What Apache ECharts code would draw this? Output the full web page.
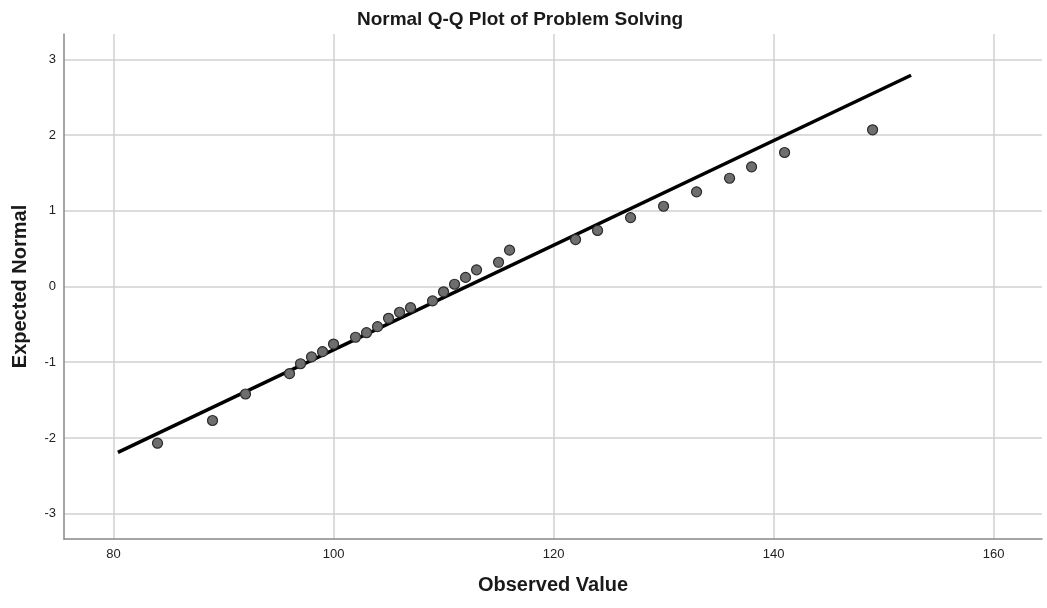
<!DOCTYPE html>
<html>
<head>
<meta charset="utf-8">
<script src="https://cdn.jsdelivr.net/npm/echarts@6/dist/echarts.min.js"></script>
<style>html,body{margin:0;padding:0;background:#fff;}#c{width:1047px;height:608px;}</style>
</head>
<body>
<div id="c"></div>
<script>
var observed = [84, 89, 92, 96, 97, 98, 99, 100, 102, 103, 104, 105, 106, 107, 109, 110, 111, 112, 113, 115, 116, 122, 124, 127, 130, 133, 136, 138, 141, 149];
var expected = [-2.07, -1.77, -1.42, -1.15, -1.02, -0.93, -0.86, -0.76, -0.67, -0.61, -0.53, -0.42, -0.34, -0.28, -0.19, -0.07, 0.03, 0.12, 0.22, 0.32, 0.48, 0.62, 0.74, 0.91, 1.06, 1.25, 1.43, 1.58, 1.77, 2.07];
var refLineX = [80.4, 152.5];
var refLineY = [-2.19, 2.79];
var xTicks = [80, 100, 120, 140, 160];
var yTicks = [-3, -2, -1, 0, 1, 2, 3];

var points = observed.map(function (v, i) { return [v, expected[i]]; });
var linePts = refLineX.map(function (v, i) { return [v, refLineY[i]]; });

var FONT = 'Liberation Sans, Arial, sans-serif';
var chart = echarts.init(document.getElementById('c'));
chart.setOption({
  animation: false,
  backgroundColor: '#fff',
  title: {
    text: 'Normal Q-Q Plot of Problem Solving',
    left: 515, top: 5, textAlign: 'center',
    textStyle: { fontFamily: FONT, fontSize: 19, fontWeight: 'bold', color: '#1a1a1a' }
  },
  grid: { left: 64, right: 5, top: 34, bottom: 69, containLabel: false, outerBoundsMode: 'none' },
  xAxis: {
    type: 'value', min: 75.5, max: 164.4,
    name: 'Observed Value', nameLocation: 'middle', nameGap: 36,
    nameTextStyle: { fontFamily: FONT, fontSize: 20, fontWeight: 'bold', color: '#1a1a1a' },
    axisLine: { show: true, onZero: false, lineStyle: { color: '#888', width: 1.5 } },
    axisTick: { show: false, customValues: xTicks },
    axisLabel: { customValues: xTicks, color: '#222', fontSize: 13, fontFamily: FONT, margin: 9 },
    splitLine: { show: true, lineStyle: { color: '#d0d0d0', width: 1.5 } }
  },
  yAxis: {
    type: 'value', min: -3.335, max: 3.335,
    name: 'Expected Normal', nameLocation: 'middle', nameGap: 34, nameRotate: 90,
    nameTextStyle: { fontFamily: FONT, fontSize: 20, fontWeight: 'bold', color: '#1a1a1a' },
    axisLine: { show: true, onZero: false, lineStyle: { color: '#888', width: 1.5 } },
    axisTick: { show: false, customValues: yTicks },
    axisLabel: { customValues: yTicks, color: '#222', fontSize: 13, fontFamily: FONT, margin: 8 },
    splitLine: { show: true, lineStyle: { color: '#d0d0d0', width: 1.5 } }
  },
  series: [
    {
      type: 'line', data: linePts, symbol: 'none', z: 2,
      lineStyle: { color: '#000', width: 3.5 }
    },
    {
      type: 'scatter', data: points, symbol: 'circle', symbolSize: 10, z: 3,
      itemStyle: { color: '#6e6e6e', borderColor: '#2a2a2a', borderWidth: 1.2, opacity: 1 }
    }
  ]
});
</script>
</body>
</html>
